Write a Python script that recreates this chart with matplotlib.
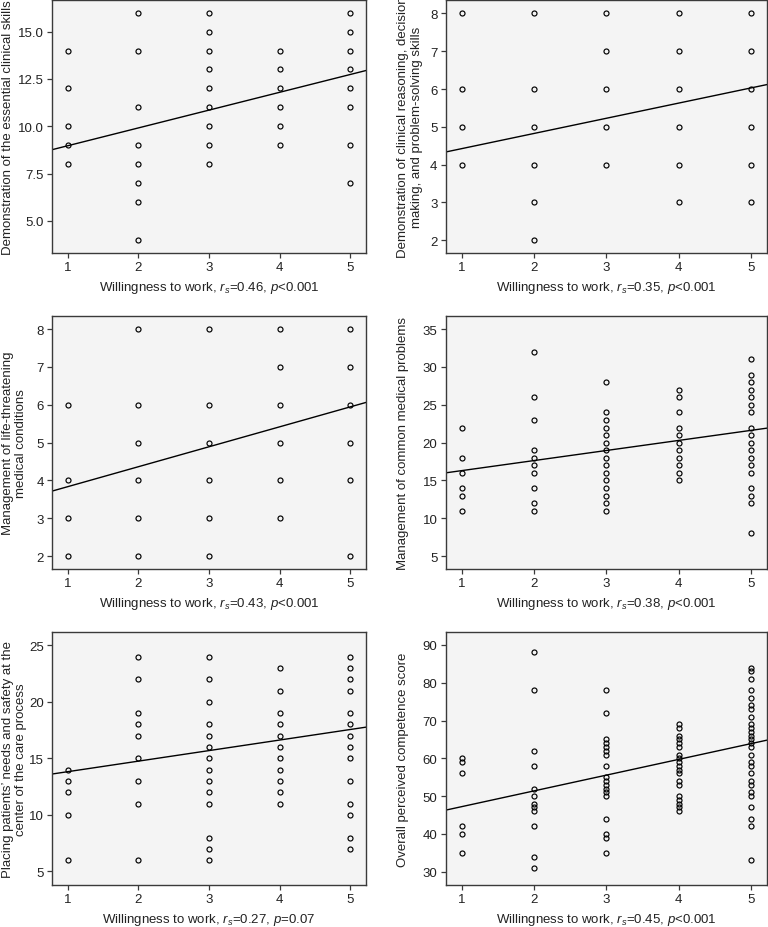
import matplotlib

matplotlib.use("Agg")
import matplotlib.pyplot as plt
import numpy as np


OUTPUT_PNG = "out.png"

# Willingness to work (x levels shared by all panels)
WILLINGNESS_LEVELS = [1, 2, 3, 4, 5]

# Scores, one list per willingness level
CLINICAL_SKILLS = [
    [14, 12, 10, 9, 8],
    [16, 14, 11, 9, 8, 7, 6, 4],
    [16, 15, 14, 13, 12, 11, 10, 9, 8],
    [14, 13, 12, 11, 10, 9],
    [16, 15, 14, 13, 12, 11, 9, 7],
]

CLINICAL_REASONING = [
    [8, 6, 5, 4],
    [8, 6, 5, 4, 3, 2],
    [8, 7, 6, 5, 4],
    [8, 7, 6, 5, 4, 3],
    [8, 7, 6, 5, 4, 3],
]

LIFE_THREATENING = [
    [6, 4, 3, 2],
    [8, 6, 5, 4, 3, 2],
    [8, 6, 5, 4, 3, 2],
    [8, 7, 6, 5, 4, 3],
    [8, 7, 6, 5, 4, 2],
]

COMMON_PROBLEMS = [
    [22, 18, 16, 14, 13, 11],
    [32, 26, 23, 19, 18, 17, 16, 14, 12, 11],
    [28, 24, 23, 22, 21, 20, 19, 18, 17, 16, 15, 14, 13, 12, 11],
    [27, 26, 24, 22, 21, 20, 19, 18, 17, 16, 15],
    [31, 29, 28, 27, 26, 25, 24, 22, 21, 20, 19, 18, 17, 16, 14, 13, 12, 8],
]

PATIENT_SAFETY = [
    [14, 13, 12, 10, 6],
    [24, 22, 19, 18, 17, 15, 13, 11, 6],
    [24, 22, 20, 18, 17, 16, 15, 14, 13, 12, 11, 8, 7, 6],
    [23, 21, 19, 18, 17, 16, 15, 14, 13, 12, 11],
    [24, 23, 22, 21, 19, 18, 17, 16, 15, 13, 11, 10, 8, 7],
]

OVERALL_SCORE = [
    [60, 59, 56, 42, 40, 35],
    [88, 78, 62, 58, 52, 50, 48, 47, 46, 42, 34, 31],
    [78, 72, 65, 64, 63, 62, 61, 58, 55, 54, 53, 52, 51, 50, 44, 40, 39, 35],
    [69, 68, 66, 65, 64, 63, 61, 60, 59, 58, 57, 56, 54, 53, 50, 49, 48, 47, 46],
    [84, 83, 81, 78, 76, 74, 73, 71, 69, 68, 67, 66, 65, 64, 63, 61, 59, 58,
     56, 54, 53, 51, 50, 47, 44, 42, 33],
]

# Fitted line of each panel (intercept, slope)
FIT_INTERCEPTS = [8.03, 4.02, 3.31, 14.97, 12.89, 43.05]
FIT_SLOPES = [0.941, 0.402, 0.527, 1.331, 0.932, 4.17]

Y_LABELS = [
    "Demonstration of the essential clinical skills",
    "Demonstration of clinical reasoning, decision\nmaking, and problem-solving skills",
    "Management of life-threatening\nmedical conditions",
    "Management of common medical problems",
    "Placing patients\u2019 needs and safety at the\ncenter of the care process",
    "Overall perceived competence score",
]
R_S_VALUES = ["0.46", "0.35", "0.43", "0.38", "0.27", "0.45"]
P_VALUES = ["<0.001", "<0.001", "<0.001", "<0.001", "=0.07", "<0.001"]


def crear_figura():
    """Dibuja los seis diagramas de dispersion con su recta de ajuste."""
    plt.rcParams["font.family"] = ["Liberation Sans", "DejaVu Sans"]
    plt.rcParams["mathtext.fontset"] = "custom"
    plt.rcParams["mathtext.rm"] = "Liberation Sans"
    plt.rcParams["mathtext.it"] = "Liberation Sans:italic"

    paneles = [CLINICAL_SKILLS, CLINICAL_REASONING, LIFE_THREATENING,
               COMMON_PROBLEMS, PATIENT_SAFETY, OVERALL_SCORE]

    ylims = [(3.3, 16.7), (1.66, 8.37), (1.66, 8.34),
             (3.3, 36.7), (3.8, 26.2), (26.5, 93.5)]
    yticks = [np.arange(5, 15.1, 2.5), np.arange(2, 9), np.arange(2, 9),
              np.arange(5, 36, 5), np.arange(5, 26, 5), np.arange(30, 91, 10)]
    yformats = ["{:.1f}", "{:.0f}", "{:.0f}", "{:.0f}", "{:.0f}", "{:.0f}"]

    # posiciones en pixeles: (izquierda, arriba, derecha, abajo)
    cajas = [
        (52.3, 0.5, 365.7, 254), (445.7, 0.5, 767, 254),
        (52.3, 317.3, 365.7, 570), (445.7, 317.3, 767, 570),
        (52.3, 632.7, 365.7, 886), (445.7, 632.7, 767, 886),
    ]

    ancho, alto = 768, 928
    fig = plt.figure(figsize=(ancho / 100, alto / 100), dpi=100)
    xlim = (0.78, 5.22)
    gris = "#3a3a3a"

    for i, datos in enumerate(paneles):
        izq, arr, der, aba = cajas[i]
        ax = fig.add_axes([izq / ancho, 1 - aba / alto,
                           (der - izq) / ancho, (aba - arr) / alto])
        ax.set_facecolor("#f4f4f4")

        for nivel, valores in zip(WILLINGNESS_LEVELS, datos):
            ax.plot([nivel] * len(valores), valores, linestyle="none",
                    marker="o", markersize=3.6, markerfacecolor="none",
                    markeredgecolor="black", markeredgewidth=0.85)

        xs = np.array(xlim)
        ax.plot(xs, FIT_INTERCEPTS[i] + FIT_SLOPES[i] * xs,
                color="black", linewidth=1.0)

        ax.set_xlim(*xlim)
        ax.set_ylim(*ylims[i])
        ax.set_xticks(WILLINGNESS_LEVELS)
        ax.set_yticks(yticks[i])
        ax.set_yticklabels([yformats[i].format(v) for v in yticks[i]])

        for lado in ax.spines.values():
            lado.set_color(gris)
            lado.set_linewidth(1.0)
        ax.tick_params(direction="out", length=3.5, width=0.9, color=gris,
                       labelsize=9.5, labelcolor="#222222", pad=2.5)

        ax.set_xlabel(
            f"Willingness to work, $r_s$={R_S_VALUES[i]}, $p${P_VALUES[i]}",
            fontsize=9.5, color="#222222", labelpad=4)
        ax.set_ylabel(Y_LABELS[i], fontsize=9.5, color="#222222",
                      va="top", multialignment="center")
        if i % 2 == 0:
            ax.yaxis.set_label_coords(-0.162, 0.5)
        else:
            ax.yaxis.set_label_coords(-0.1525, 0.5)

    fig.savefig(OUTPUT_PNG, dpi=100)
    plt.close(fig)


def main():
    crear_figura()


if __name__ == "__main__":
    main()
